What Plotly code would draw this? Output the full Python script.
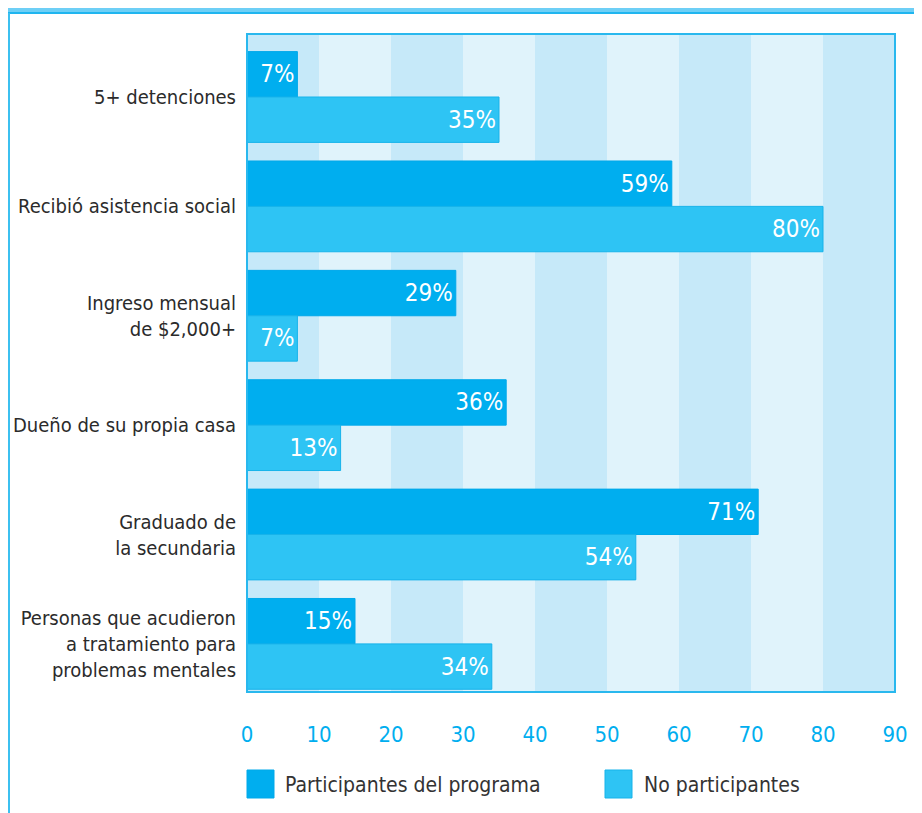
import plotly.graph_objects as go

categories = [
    "5+ detenciones",
    "Recibió asistencia social",
    "Ingreso mensual<br>de $2,000+",
    "Dueño de su propia casa",
    "Graduado de<br>la secundaria",
    "Personas que acudieron<br>a tratamiento para<br>problemas mentales",
]
participantes = [7, 59, 29, 36, 71, 15]
no_participantes = [35, 80, 7, 13, 54, 34]
series_names = ["Participantes del programa", "No participantes"]
tick_values = [0, 10, 20, 30, 40, 50, 60, 70, 80, 90]

FONT = "DejaVu Sans Condensed, Liberation Sans Narrow, sans-serif"
C_PART = "#00aeef"
C_NOPART = "#2ec4f4"
BAND_DARK = "#c6e9f9"
BAND_LIGHT = "#e0f3fb"
FRAME = "#29b8ee"

fig = go.Figure()
fig.add_trace(go.Bar(
    y=categories, x=participantes, orientation="h", name=series_names[0],
    marker=dict(color=C_PART, line=dict(color="#00a9ea", width=1)),
    text=[f"{v}%" for v in participantes], textposition="inside",
    insidetextanchor="end", textfont=dict(color="white", size=24, family=FONT),
    showlegend=False, hoverinfo="skip",
))
fig.add_trace(go.Bar(
    y=categories, x=no_participantes, orientation="h", name=series_names[1],
    marker=dict(color=C_NOPART, line=dict(color="#17b3ea", width=1)),
    text=[f"{v}%" for v in no_participantes], textposition="inside",
    insidetextanchor="end", textfont=dict(color="white", size=24, family=FONT),
    showlegend=False, hoverinfo="skip",
))

shapes = []
# alternating background bands
for i in range(len(tick_values) - 1):
    shapes.append(dict(
        type="rect", xref="x", yref="paper",
        x0=tick_values[i], x1=tick_values[i + 1], y0=0, y1=1,
        fillcolor=BAND_DARK if i % 2 == 0 else BAND_LIGHT,
        line=dict(width=0), layer="below",
    ))
# plot border
shapes.append(dict(type="rect", xref="paper", yref="paper", x0=0, x1=1, y0=0, y1=1,
                   line=dict(color=FRAME, width=2), layer="above"))

# page has an 8px body margin; figure sized to fit the window
OFF = 8
W, H = 914, 805
ml, mr, mt, mb = 239, 27, 26, 121
pw, ph = W - ml - mr, H - mt - mb

def px_x(p):  # page pixel -> paper x
    return (p - OFF - ml) / pw

def px_y(p):  # page pixel -> paper y
    return (H - mb - (p - OFF)) / ph

# outer frame: top strip + side lines
shapes.append(dict(type="rect", xref="paper", yref="paper",
                   x0=px_x(0), x1=px_x(W + 20), y0=px_y(12), y1=px_y(0),
                   fillcolor="#6dcff6", line=dict(width=0)))
shapes.append(dict(type="line", xref="paper", yref="paper",
                   x0=px_x(0), x1=px_x(W + 20), y0=px_y(13), y1=px_y(13),
                   line=dict(color="#1fb5ef", width=2)))
shapes.append(dict(type="line", xref="paper", yref="paper",
                   x0=px_x(9), x1=px_x(9), y0=px_y(13), y1=px_y(H + 20),
                   line=dict(color="#3cc0f0", width=2)))
shapes.append(dict(type="line", xref="paper", yref="paper",
                   x0=px_x(918), x1=px_x(918), y0=px_y(13), y1=px_y(H + 20),
                   line=dict(color="#3cc0f0", width=2)))

# legend (large swatches)
annotations = []
legend_items = [(247, 283, C_PART, "#00a9ea"), (605, 642, C_NOPART, "#17b3ea")]
for (sx, tx, col, lcol), name in zip(legend_items, series_names):
    shapes.append(dict(type="rect", xref="paper", yref="paper",
                       x0=px_x(sx), x1=px_x(sx + 27), y0=px_y(798), y1=px_y(770),
                       fillcolor=col, line=dict(color=lcol, width=1)))
    annotations.append(dict(xref="paper", yref="paper", x=px_x(tx), y=px_y(785),
                            xanchor="left", yanchor="middle", text=name, showarrow=False,
                            font=dict(family=FONT, size=21, color="#333333")))

fig.update_layout(
    width=W, height=H,
    margin=dict(l=ml, r=mr, t=mt, b=mb, pad=0, autoexpand=False),
    paper_bgcolor="white", plot_bgcolor="white",
    barmode="group", bargap=0.17, bargroupgap=0,
    shapes=shapes, annotations=annotations,
    uniformtext=dict(minsize=24, mode="show"),
    xaxis=dict(range=[0, 90], tickvals=tick_values, showgrid=False, zeroline=False,
               ticks="outside", ticklen=23, tickcolor="rgba(0,0,0,0)",
               tickfont=dict(family=FONT, size=22, color="#00aeef"),
               fixedrange=True, automargin=False),
    yaxis=dict(categoryorder="array", categoryarray=categories,
               range=[5.44, -0.576], showgrid=False, zeroline=False,
               ticks="outside", ticklen=6, tickcolor="rgba(0,0,0,0)",
               tickfont=dict(family=FONT, size=20, color="#2b2b2b"),
               fixedrange=True, automargin=False),
    font=dict(family=FONT),
)

fig.write_html("out.html")
